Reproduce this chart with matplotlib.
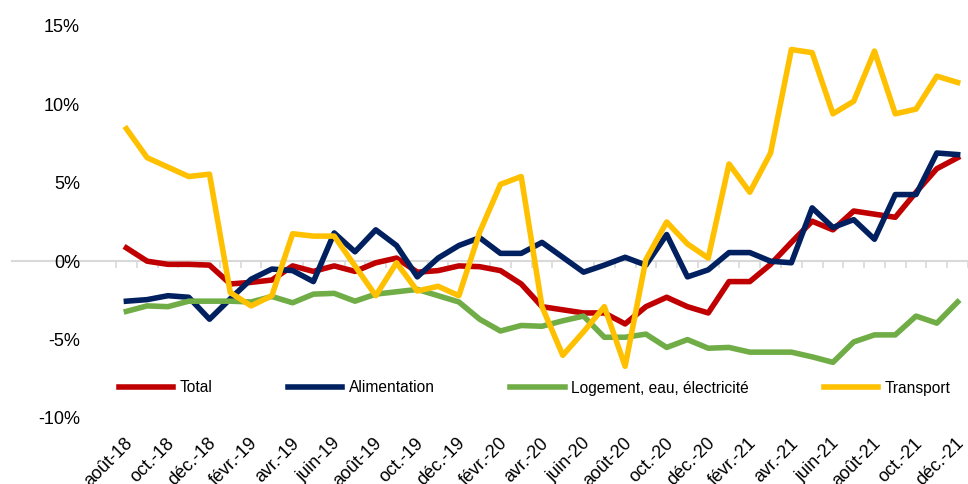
import numpy as np
import matplotlib
matplotlib.use("Agg")
import matplotlib.pyplot as plt
import matplotlib.transforms as mtransforms

plt.rcParams['font.family'] = ['Liberation Sans', 'DejaVu Sans']

# monthly labels, août-18 .. déc.-21
mois = ['janv.', 'févr.', 'mars', 'avr.', 'mai', 'juin',
        'juil.', 'août', 'sept.', 'oct.', 'nov.', 'déc.']
labels = []
for k in range(7, 7 + 41):
    labels.append(f"{mois[k % 12]}-{18 + k // 12}")

total = [0.85, 0.0, -0.2, -0.2, -0.25, -1.45, -1.35, -1.2, -0.3, -0.65,
         -0.3, -0.65, -0.1, 0.2, -0.7, -0.6, -0.3, -0.35, -0.6, -1.45,
         -2.9, -3.1, -3.3, -3.3, -4.0, -2.9, -2.3, -2.9, -3.3, -1.3,
         -1.3, -0.2, 1.2, 2.55, 2.0, 3.2, 3.0, 2.8, 4.4, 5.9, 6.6]
alimentation = [-2.55, -2.45, -2.2, -2.3, -3.7, -2.4, -1.15, -0.5, -0.6, -1.3,
                1.8, 0.6, 2.0, 1.0, -1.0, 0.2, 1.0, 1.5, 0.5, 0.5,
                1.2, 0.25, -0.7, -0.25, 0.25, -0.25, 1.7, -1.0, -0.55, 0.55,
                0.55, 0.0, -0.1, 3.4, 2.15, 2.65, 1.4, 4.25, 4.25, 6.9, 6.8]
logement = [-3.2, -2.85, -2.9, -2.55, -2.55, -2.55, -2.6, -2.25, -2.65, -2.1,
            -2.05, -2.55, -2.1, -1.95, -1.8, -2.2, -2.6, -3.7, -4.45, -4.1,
            -4.15, -3.8, -3.5, -4.85, -4.85, -4.65, -5.5, -5.0, -5.55, -5.5,
            -5.8, -5.8, -5.8, -6.1, -6.45, -5.15, -4.7, -4.7, -3.5, -3.95, -2.6]
transport = [8.45, 6.6, 6.0, 5.4, 5.55, -2.0, -2.85, -2.2, 1.75, 1.6,
             1.6, -0.3, -2.2, -0.1, -1.9, -1.6, -2.2, 1.85, 4.9, 5.4,
             -2.9, -6.0, -4.5, -2.9, -6.7, 0.1, 2.5, 1.1, 0.2, 6.2,
             4.4, 6.9, 13.5, 13.3, 9.4, 10.2, 13.4, 9.4, 9.7, 11.8, 11.4]

series = [("Total", total, "#C00000"),
          ("Alimentation", alimentation, "#002060"),
          ("Logement, eau, électricité", logement, "#70AD47"),
          ("Transport", transport, "#FFC000")]

W, H = 968, 484
fig = plt.figure(figsize=(W / 100, H / 100), dpi=100)
left, right, bottom, top = 116, 968, 418, 26
ax = fig.add_axes([left / W, 1 - bottom / H, (right - left) / W, (bottom - top) / H])

x = np.arange(len(labels))
for name, vals, col in series:
    ax.plot(x, vals, color=col, lw=4.0, label=name)

ax.set_xlim(-0.5, -0.5 + (right - left) / 21.0)
ax.set_ylim(-10, 15)

# y axis
ax.set_yticks(np.arange(-10, 16, 5))
ax.set_yticklabels([f"{v:.0f}%" for v in np.arange(-10, 16, 5)], fontsize=13)
ax.tick_params(axis='y', length=0, pad=26)
for s in ['left', 'right', 'top']:
    ax.spines[s].set_visible(False)

# zero line with tick marks between categories
ax.spines['bottom'].set_position(('data', 0))
ax.spines['bottom'].set_color('#D9D9D9')
ax.spines['bottom'].set_linewidth(1.5)
ax.spines['bottom'].set_zorder(0)
ax.axhline(0, xmin=-(left - 12) / (right - left), xmax=0, color='#D9D9D9',
           lw=1.5, clip_on=False, zorder=0)
ax.set_xticks([])
ax.set_xticks(np.arange(-0.5, len(labels), 1), minor=True)
ax.tick_params(axis='x', which='minor', length=5, width=1.2, color='#D9D9D9')

# category labels at the bottom
sec = ax.secondary_xaxis('bottom')
sec.spines['bottom'].set_visible(False)
sec.set_xticks(x[::2])
sec.set_xticklabels(labels[::2], rotation=45, ha='right', va='top',
                    rotation_mode='anchor', fontsize=13)
sec.tick_params(axis='x', length=0, pad=12)
shift = mtransforms.ScaledTranslation(-2 / 100, 0, fig.dpi_scale_trans)
for lab in sec.get_xticklabels():
    lab.set_transform(lab.get_transform() + shift)

fig.legend(loc='center left', bbox_to_anchor=(119 / W, 1 - 388 / H),
           ncol=4, frameon=False, fontsize=11.2, handlelength=3.5,
           handletextpad=0.4, columnspacing=4.85, borderpad=0, borderaxespad=0)

fig.savefig("out.png", dpi=100)
